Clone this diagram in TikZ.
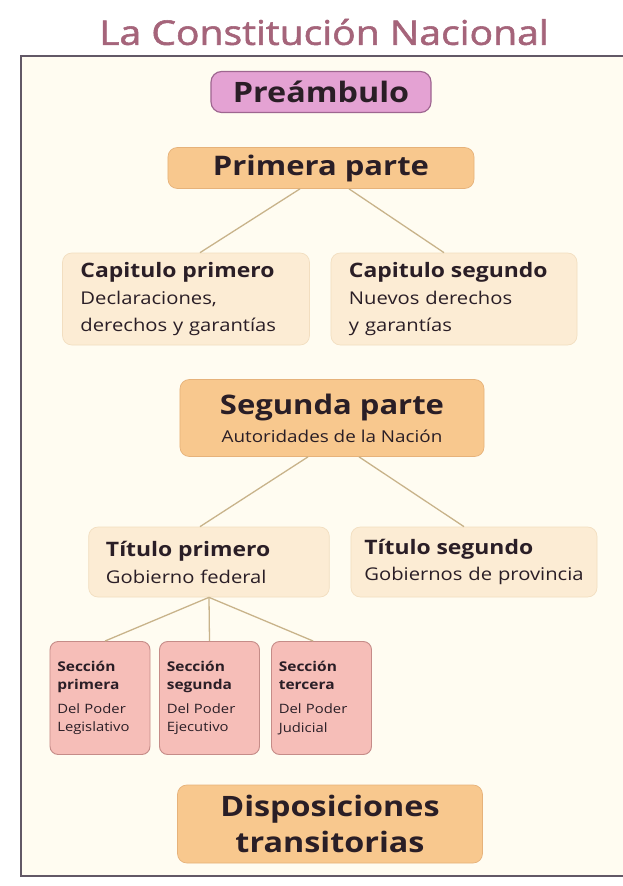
\documentclass[tikz,border=0pt]{standalone}
\usepackage{fontspec}
\setmainfont[FakeStretch=1.15]{Open Sans}
\newfontfamily\titlefont[FakeStretch=1.15,FakeBold=1.6]{Open Sans}
\usepackage{tikz}

\definecolor{titlecol}{HTML}{A5647A}
\definecolor{framebg}{HTML}{FFFCF1}
\definecolor{framecol}{HTML}{625866}
\definecolor{inkcol}{HTML}{2A1E26}
\definecolor{prefill}{HTML}{E4A2D3}
\definecolor{predraw}{HTML}{9E6690}
\definecolor{partefill}{HTML}{F8C88E}
\definecolor{partedraw}{HTML}{E6B27A}
\definecolor{capfill}{HTML}{FCECD4}
\definecolor{capdraw}{HTML}{F2DEC0}
\definecolor{secfill}{HTML}{F6BEB8}
\definecolor{secdraw}{HTML}{C58C88}
\definecolor{linkcol}{HTML}{C8B38A}

\tikzset{
  prebox/.style={draw=predraw,fill=prefill,line width=1pt,rounded corners=9pt,
    minimum width=6.6cm,minimum height=1.23cm,font=\fontsize{24}{26}\selectfont\bfseries},
  partebox/.style={draw=partedraw,fill=partefill,line width=0.6pt,rounded corners=8pt,
    align=center,text=inkcol},
  capbox/.style={draw=capdraw,fill=capfill,line width=0.6pt,rounded corners=8pt,
    align=left,inner xsep=0.52cm,text=inkcol,font=\fontsize{15}{23}\selectfont},
  secbox/.style={draw=secdraw,fill=secfill,line width=0.8pt,rounded corners=7pt,
    align=left,inner xsep=0.22cm,text width=2.56cm,minimum width=3cm,minimum height=3.39cm,
    text=inkcol,font=\fontsize{11}{15.5}\selectfont},
  link/.style={linkcol,line width=1.1pt}
}
\newcommand{\caphead}[1]{{\fontsize{17}{23}\selectfont\bfseries #1}}
\newcommand{\sechead}[1]{{\fontsize{11.5}{15.5}\selectfont\bfseries #1}}

\begin{document}
\begin{tikzpicture}[x=0.03cm,y=-0.03cm]
\useasboundingbox (0,0) rectangle (623,886);
\fill[white] (0,0) rectangle (623,886);
% frame
\fill[framebg] (21,56) rectangle (623,876);
\draw[framecol,line width=1.6pt] (623,56) -- (21,56) -- (21,876) -- (623,876);
\node[titlecol,font=\titlefont\fontsize{29}{30}\selectfont] (titulo) at (324,32) {La Constitución Nacional};

\node[prebox,text=inkcol] (pre) at (321,92) {Preámbulo};
\node[partebox,minimum width=9.18cm,minimum height=1.23cm,font=\fontsize{23}{24}\selectfont\bfseries] (p1) at (321,168) {Primera parte};

\node[capbox,text width=6.33cm,minimum width=7.41cm,minimum height=2.76cm] (c1) at (186,299)
  {\caphead{Capitulo primero}\\ Declaraciones,\\ derechos y garantías};
\node[capbox,text width=6.3cm,minimum width=7.38cm,minimum height=2.76cm] (c2) at (454,299)
  {\caphead{Capitulo segundo}\\ Nuevos derechos\\ y garantías};

\node[partebox,minimum width=9.12cm,minimum height=2.31cm,font=\fontsize{14}{24}\selectfont] (p2) at (332,418)
  {{\fontsize{23}{24}\selectfont\bfseries Segunda parte}\\ Autoridades de la Nación};

\node[capbox,text width=6.18cm,minimum width=7.2cm,minimum height=2.1cm] (t1) at (209,562)
  {\caphead{Título primero}\\ Gobierno federal};
\node[capbox,inner xsep=0.4cm,text width=6.58cm,minimum width=7.38cm,minimum height=2.1cm] (t2) at (474,562)
  {\caphead{Título segundo}\\ Gobiernos de provincia};

\node[secbox] (s1) at (100,698) {\sechead{Sección}\\ \sechead{primera}\\[5pt] Del Poder\\ Legislativo};
\node[secbox,minimum width=2.91cm] (s2) at (209.5,698) {\sechead{Sección}\\ \sechead{segunda}\\[5pt] Del Poder\\ Ejecutivo};
\node[secbox,minimum width=2.97cm] (s3) at (321.5,698) {\sechead{Sección}\\ \sechead{tercera}\\[5pt] Del Poder\\ Judicial};

\node[partebox,minimum width=9.15cm,minimum height=2.34cm,font=\fontsize{24}{30}\selectfont\bfseries] (dis) at (330,824)
  {Disposiciones\\ transitorias};

% ramas
\draw[link] ([xshift=-0.63cm]p1.south) -- ([xshift=0.42cm]c1.north);
\draw[link] ([xshift=0.84cm]p1.south) -- ([xshift=-0.3cm]c2.north);
\draw[link] ([xshift=-0.72cm]p2.south) -- ([xshift=-0.27cm]t1.north);
\draw[link] ([xshift=0.81cm]p2.south) -- ([xshift=-0.3cm]t2.north);
\draw[link] (t1.south) -- ([xshift=0.15cm]s1.north);
\draw[link] (t1.south) -- (s2.north);
\draw[link] (t1.south) -- ([xshift=-0.25cm]s3.north);
\end{tikzpicture}
\end{document}
